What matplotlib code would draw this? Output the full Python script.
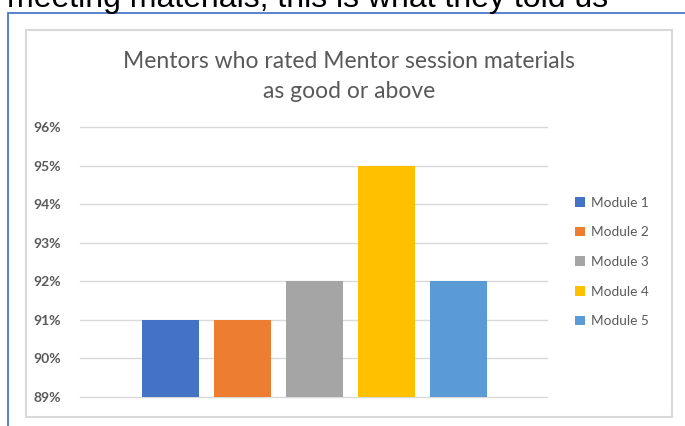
import matplotlib
matplotlib.use("Agg")
import matplotlib.pyplot as plt
from matplotlib.patches import Rectangle
from matplotlib.ticker import FuncFormatter

modules = ["Module 1", "Module 2", "Module 3", "Module 4", "Module 5"]
rated_good = [91, 91, 92, 95, 92]
colors = ["#4472C4", "#ED7D31", "#A5A5A5", "#FFC000", "#5B9BD5"]
y_ticks = [89, 90, 91, 92, 93, 94, 95, 96]

W, H = 685, 426
fig = plt.figure(figsize=(W / 100, H / 100), dpi=100)
fig.patch.set_facecolor("white")

# slide text cut off at the top
fig.text(7 / W, 1 - 7 / H, "meeting materials, this is what they told us",
         fontsize=23, family="Liberation Sans", color="#000000",
         ha="left", va="baseline")

# blue frame of the slide object and the grey chart border
fig.patches.append(Rectangle((7.5 / W, -0.1), 1.2, 1 - 12.5 / H + 0.1,
                             transform=fig.transFigure, fill=False,
                             edgecolor="#4A78C8", lw=1.3))
fig.patches.append(Rectangle((26 / W, 1 - 417 / H), (672 - 26) / W, (417 - 30) / H,
                             transform=fig.transFigure, fill=False,
                             edgecolor="#D9D9D9", lw=1.5))

fig.text(349 / W, 1 - 68 / H, "Mentors who rated Mentor session materials",
         fontsize=16.5, family="Lato", color="#595959", ha="center", va="baseline")
fig.text(349 / W, 1 - 98 / H, "as good or above",
         fontsize=16.5, family="Lato", color="#595959", ha="center", va="baseline")

ax = fig.add_axes([80 / W, 1 - 397 / H, 467 / W, 270 / H])
x = list(range(len(modules)))
bars = ax.bar(x, [v - 89 for v in rated_good], bottom=89, width=0.79,
              color=colors, zorder=3)
ax.set_ylim(89, 96)
ax.set_xlim(-1.257, 5.23)
ax.set_yticks(y_ticks)
ax.yaxis.set_major_formatter(FuncFormatter(lambda v, p: f"{int(v)}%"))
ax.set_xticks([])
ax.grid(axis="y", color="#D9D9D9", lw=1, zorder=0)
for g in ax.get_ygridlines():
    g.set_clip_on(False)
for s in ax.spines.values():
    s.set_visible(False)
ax.tick_params(axis="y", length=0, pad=14, labelsize=10, labelcolor="#595959")
for t in ax.get_yticklabels():
    t.set_family("Lato")
    t.set_fontweight("bold")

leg = ax.legend(bars, modules, loc="center left",
                bbox_to_anchor=(575 / W, 1 - 262 / H),
                bbox_transform=fig.transFigure, frameon=False,
                handlelength=0.7, handleheight=0.7, handletextpad=0.5,
                labelspacing=1.3, borderpad=0, borderaxespad=0,
                prop={"family": "Lato", "size": 9.8})
for t in leg.get_texts():
    t.set_color("#595959")

fig.savefig("out.png", dpi=100)
